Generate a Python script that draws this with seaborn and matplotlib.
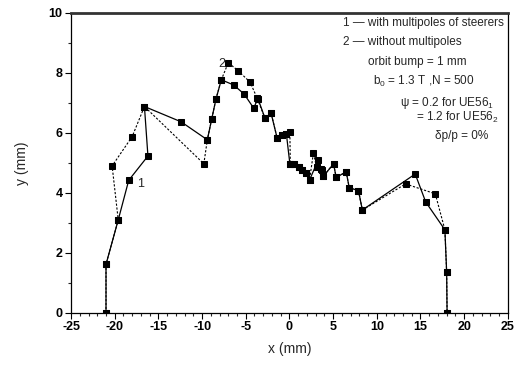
import matplotlib
matplotlib.use("Agg")
import matplotlib.pyplot as plt
import seaborn as sns
import numpy as np

# Series 1: closed orbit with multipoles of steerers
x_with = [-21.0, -21.0, -19.6, -18.4, -16.2, -16.6, -12.4, -9.4, -8.9, -8.4, -7.8,
          -6.4, -5.2, -4.1, -3.6, -2.8, -2.1, -1.4, -0.8, -0.35, 0.05, 0.5, 1.05,
          1.45, 1.85, 2.3, 3.3, 3.7, 3.9, 5.05, 5.35, 6.5, 6.85, 7.9, 8.35, 14.4,
          15.6, 17.8, 18.0, 18.05]
y_with = [0.0, 1.62, 3.1, 4.42, 5.23, 6.88, 6.37, 5.77, 6.46, 7.14, 7.77,
          7.6, 7.3, 6.83, 7.14, 6.49, 6.66, 5.82, 5.93, 5.97, 4.97, 4.97, 4.88,
          4.77, 4.66, 4.43, 5.1, 4.78, 4.56, 4.97, 4.52, 4.7, 4.17, 4.08, 3.43, 4.63,
          3.7, 2.77, 1.36, 0.0]

# Series 2: closed orbit without multipoles
x_without = [-21.0, -21.0, -19.6, -20.3, -18.0, -16.6, -9.8, -9.4, -8.9, -8.4, -7.8,
             -7.0, -5.9, -4.5, -3.7, -2.8, -2.1, -1.4, -0.8, -0.35, 0.05, 0.1, 0.5,
             1.05, 1.45, 1.85, 2.3, 2.75, 3.1, 3.6, 3.9, 5.05, 5.35, 6.5, 6.85, 7.9,
             8.35, 13.3, 16.7, 17.8, 18.0, 18.05]
y_without = [0.0, 1.62, 3.1, 4.9, 5.88, 6.88, 4.97, 5.77, 6.46, 7.14, 7.77,
             8.34, 8.08, 7.69, 7.16, 6.49, 6.66, 5.82, 5.93, 5.97, 6.02, 4.97, 4.97,
             4.88, 4.77, 4.66, 4.43, 5.34, 4.86, 4.8, 4.56, 4.97, 4.52, 4.7, 4.17, 4.08,
             3.43, 4.3, 3.97, 2.77, 1.36, 0.0]

x_ticks = [-25, -20, -15, -10, -5, 0, 5, 10, 15, 20, 25]
y_ticks = [0, 2, 4, 6, 8, 10]

sns.set_theme(style="white")
plt.rcParams["font.family"] = ["Liberation Sans", "DejaVu Sans"]
plt.rcParams["mathtext.fontset"] = "custom"
plt.rcParams["mathtext.rm"] = "Liberation Sans"
plt.rcParams["mathtext.it"] = "Liberation Sans:italic"
plt.rcParams["axes.unicode_minus"] = False

fig = plt.figure(figsize=(5.15, 3.69), dpi=100)
ax = fig.add_axes([0.138, 0.152, 0.848, 0.813])

sns.lineplot(x=x_without, y=y_without, sort=False, estimator=None, ax=ax,
             color="black", lw=0.8, marker="s", markersize=3.8,
             markeredgecolor="black", linestyle=(0, (2, 1.5)))
sns.lineplot(x=x_with, y=y_with, sort=False, estimator=None, ax=ax,
             color="black", lw=0.9, marker="s", markersize=4.2,
             markeredgecolor="black")

ax.set_xlim(-25, 25)
ax.set_ylim(0, 10)
ax.set_xticks(x_ticks)
ax.set_yticks(y_ticks)
ax.set_xticks(np.arange(-25, 26, 1), minor=True)
ax.set_yticks(np.arange(0, 11, 1), minor=True)
ax.tick_params(axis="both", which="major", direction="out", length=4, width=0.8,
               labelsize=9, colors="black", pad=2)
ax.tick_params(axis="both", which="minor", direction="out", length=2.5, width=0.8)
ax.tick_params(bottom=True, left=True, which="both")
for lbl in ax.get_xticklabels() + ax.get_yticklabels():
    lbl.set_fontweight("bold")

for side in ["left", "bottom", "right"]:
    ax.spines[side].set_color("black")
    ax.spines[side].set_linewidth(0.9)
ax.spines["top"].set_color("#333333")
ax.spines["top"].set_linewidth(2)

ax.set_xlabel("x (mm)", fontsize=10, labelpad=6)
ax.set_ylabel("y (mm)", fontsize=10, labelpad=14)

# curve labels
ax.text(-17.4, 4.3, "1", fontsize=9, va="center", ha="left")
ax.text(-7.3, 8.3, "2", fontsize=9, va="center", ha="right")

# annotation block
fs = 8.5
ax.text(0.622, 0.967, "1 \u2014 with multipoles of steerers", transform=ax.transAxes,
        fontsize=fs, va="center", ha="left")
ax.text(0.622, 0.903, "2 \u2014 without multipoles", transform=ax.transAxes,
        fontsize=fs, va="center", ha="left")
ax.text(0.792, 0.837, "orbit bump = 1 mm", transform=ax.transAxes,
        fontsize=fs, va="center", ha="center")
ax.text(0.808, 0.77, r"b$_\mathregular{0}$ = 1.3 T ,N = 500", transform=ax.transAxes,
        fontsize=fs, va="center", ha="center")
ax.text(0.753, 0.70, "\u03c8 = 0.2 for UE56$_\\mathregular{1}$", transform=ax.transAxes,
        fontsize=fs, va="center", ha="left")
ax.text(0.79, 0.653, r"= 1.2 for UE56$_\mathregular{2}$", transform=ax.transAxes,
        fontsize=fs, va="center", ha="left")
ax.text(0.895, 0.59, "\u03b4p/p = 0%", transform=ax.transAxes,
        fontsize=fs, va="center", ha="center")

fig.savefig("out.png", dpi=100)
